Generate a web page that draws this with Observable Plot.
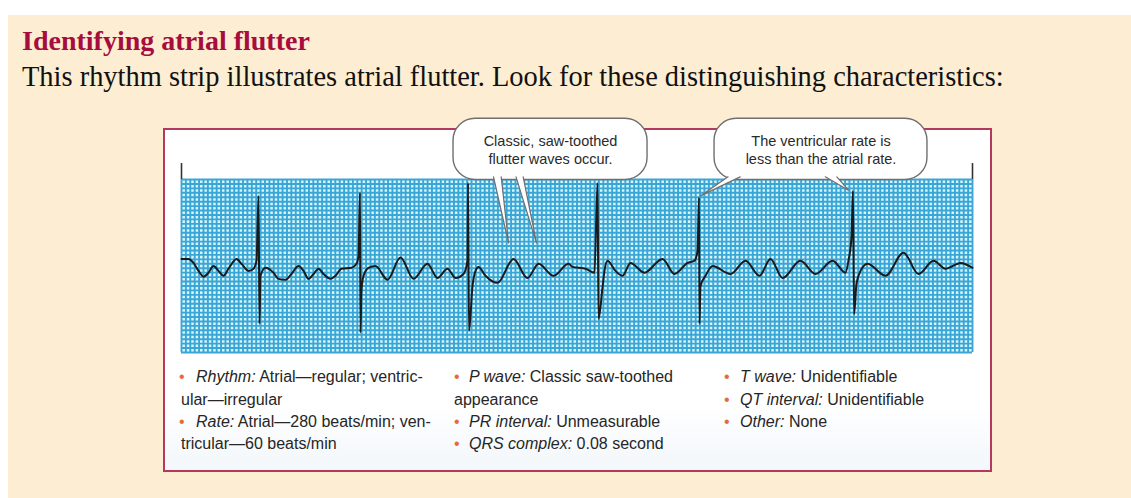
<!DOCTYPE html>
<html>
<head>
<meta charset="utf-8">
<script src="https://cdn.jsdelivr.net/npm/d3@7"></script>
<script src="https://cdn.jsdelivr.net/npm/@observablehq/plot@0.6"></script>
<style>
  html, body { margin: 0; padding: 0; background: #ffffff; }
  #page { position: relative; width: 1131px; height: 498px; overflow: hidden; }
  #bg { position: absolute; left: 8px; top: 15px; width: 1123px; height: 483px; background: #FDEDD2; }
  #title { position: absolute; left: 22px; top: 29px; font-family: "Liberation Serif", "DejaVu Serif", serif; font-weight: bold; font-size: 24px; color: #A60D3D; white-space: nowrap; line-height: 28px; }
  #sub { position: absolute; left: 22px; top: 65px; font-family: "Liberation Serif", "DejaVu Serif", serif; font-size: 23px; color: #111; white-space: nowrap; line-height: 28px; }
  #panel { position: absolute; left: 163px; top: 128px; width: 825px; height: 340px; border: 2px solid #B33A5C; background: linear-gradient(#ffffff 80%, #f3f7fb 100%); }
  #chart { position: absolute; left: 170px; top: 108px; }
  #chart svg { overflow: visible; }
  .ln { position: absolute; font-family: "Liberation Sans Narrow", "Arial Narrow", "Liberation Sans", sans-serif; font-size: 16px; line-height: 22px; color: #262626; white-space: nowrap; }
  .dot { position: absolute; font-family: "Liberation Sans", sans-serif; font-size: 16px; line-height: 22px; color: #E8693A; }
  .ln i { font-style: italic; }
</style>
</head>
<body>
<div id="page">
  <div id="bg"></div>
  <div id="title">Identifying atrial flutter</div>
  <div id="sub">This rhythm strip illustrates atrial flutter. Look for these distinguishing characteristics:</div>
  <div id="panel"></div>
  <div id="chart"></div>
  <div id="bullets"></div>
</div>
<script>
// ---------- ECG paper (seconds / millivolts) ----------
const stripSeconds = 7.2;
const smallBoxSec = 0.04;
const smallBoxMv = 0.1;
const mvBottom = -2.0;
const mvTop = 1.9;

// ---------- ECG trace read from the strip ----------
const ecgTime = [
  0, 0.064, 0.109, 0.155, 0.200, 0.246, 0.291, 0.337, 0.382, 0.428, 0.501, 0.546, 0.610, 0.655, 0.683, 0.701, 0.710, 0.719,
  0.765, 0.837, 0.883, 0.947, 1.001, 1.065, 1.111, 1.156, 1.202, 1.247, 1.293, 1.356, 1.402, 1.456, 1.547, 1.593, 1.611, 1.625, 1.629, 1.638, 1.657, 1.702, 1.766,
  1.875, 1.993, 2.112, 2.239, 2.330, 2.421, 2.494, 2.567, 2.603, 2.608, 2.617, 2.649, 2.676, 2.703, 2.767, 2.876, 3.022, 3.149, 3.250, 3.386, 3.523,
  3.559, 3.677, 3.759, 3.787, 3.796, 3.832, 3.850, 3.878, 3.950, 4.014, 4.087, 4.214, 4.378, 4.488, 4.606, 4.670, 4.697, 4.711, 4.715,
  4.724, 4.770, 4.833, 4.997, 5.134, 5.261, 5.361, 5.471, 5.634, 5.771, 5.926, 6.044, 6.071, 6.099, 6.112, 6.122,
  6.144, 6.181, 6.244, 6.408, 6.572, 6.709, 6.845, 6.954, 7.020, 7.091, 7.200
];
const ecgMv = [
  0.11, 0.11, 0.02, -0.16, -0.29, -0.20, -0.05, -0.16, -0.27, -0.11, 0.11, 0.00, -0.16, -0.11, 0.07, 1.53, -1.35, -0.27,
  -0.09, -0.20, -0.34, -0.36, -0.23, -0.05, -0.16, -0.34, -0.23, -0.11, -0.23, -0.34, -0.27, -0.11, -0.09, 0.00, 0.18, 1.60, -1.55, -0.61, -0.27, -0.09, -0.05,
  -0.36, 0.14, -0.34, 0.00, -0.32, -0.11, -0.32, -0.23, 0.07, 1.82, -1.51, -0.50, -0.16, -0.07, -0.27, -0.43, 0.11, -0.32, 0.00, -0.27, 0.00,
  -0.07, -0.11, -0.20, 1.82, -1.24, -0.54, -0.16, 0.07, -0.16, -0.27, 0.02, -0.20, 0.11, -0.23, 0.02, 0.07, 0.29, 1.49, -1.35,
  -0.50, -0.27, -0.05, -0.23, 0.07, -0.27, 0.11, -0.32, 0.07, -0.23, 0.07, -0.20, 0.07, 0.63, 1.64, -1.13,
  -0.45, -0.16, 0.00, -0.27, 0.25, -0.23, 0.07, -0.11, -0.05, 0.02, -0.09
];

// ---------- Callouts ----------
const calloutLines = [["Classic, saw-toothed", "flutter waves occur."], ["The ventricular rate is", "less than the atrial rate."]];
const calloutX1 = [2.476, 4.852];
const calloutX2 = [4.242, 6.790];
const calloutTopMv = 3.27;
const calloutBottomMv = 1.89;
// tails: callout index, base start/end (s), tip time (s), tip level (mV)
const tailCallout = [0, 0, 1, 1];
const tailBase1 = [2.840, 3.045, 4.975, 5.860];
const tailBase2 = [2.910, 3.110, 5.085, 5.965];
const tailTipT = [2.977, 3.231, 4.724, 6.071];
const tailTipMv = [0.47, 0.47, 1.53, 1.66];

// ---------- Bullet text ----------
const col1 = [["Rhythm:", " Atrial\u2014regular; ventric-", "ular\u2014irregular"], ["Rate:", " Atrial\u2014280 beats/min; ven-", "tricular\u201460 beats/min"]];
const col2 = [["P wave:", " Classic saw-toothed", "appearance"], ["PR interval:", " Unmeasurable", null], ["QRS complex:", " 0.08 second", null]];
const col3 = [["T wave:", " Unidentifiable", null], ["QT interval:", " Unidentifiable", null], ["Other:", " None", null]];

// ---------- Build tables ----------
const ecg = ecgTime.map((t, i) => ({t, mv: ecgMv[i]}));
const xGrid = d3.range(Math.round(stripSeconds / smallBoxSec) + 1).map(i => i * smallBoxSec);
const yGrid = d3.range(Math.round((mvTop - mvBottom) / smallBoxMv) + 1).map(i => mvBottom + i * smallBoxMv);
const callouts = calloutLines.map((lines, i) => ({
  x1: calloutX1[i], x2: calloutX2[i], y1: calloutBottomMv, y2: calloutTopMv,
  cx: (calloutX1[i] + calloutX2[i]) / 2, cy: (calloutBottomMv + calloutTopMv) / 2,
  label: lines.join("\n")
}));
const inset = 0.07;
const tails = [];
tailCallout.forEach((c, i) => {
  tails.push({id: i, x: tailBase1[i], y: calloutBottomMv + inset});
  tails.push({id: i, x: tailTipT[i], y: tailTipMv[i]});
  tails.push({id: i, x: tailBase2[i], y: calloutBottomMv + inset});
});

const gridW = 791, gridH = 173;
const mL = 11, mR = 12, mT = 71, mB = 4;

const chart = Plot.plot({
  width: gridW + mL + mR,
  height: gridH + mT + mB,
  marginLeft: mL, marginRight: mR, marginTop: mT, marginBottom: mB,
  x: {domain: [0, stripSeconds], axis: null},
  y: {domain: [mvBottom, mvTop], axis: null},
  style: {background: "transparent", overflow: "visible"},
  marks: [
    Plot.frame({fill: "#D6F5FD", stroke: null}),
    Plot.ruleX(xGrid, {stroke: "#3AA6D6", strokeWidth: 1.9}),
    Plot.ruleY(yGrid, {stroke: "#3AA6D6", strokeWidth: 1.9}),
    Plot.ruleX([0, stripSeconds], {y1: mvTop, y2: mvTop + 0.36, stroke: "#333", strokeWidth: 1.6}),
    Plot.line(ecg, {x: "t", y: "mv", curve: "monotone-x", stroke: "#1a1a1a", strokeWidth: 2}),
    Plot.rect(callouts, {x1: "x1", x2: "x2", y1: "y1", y2: "y2", rx: 22, fill: "#ffffff", stroke: "#6f6f6f", strokeWidth: 1.4}),
    Plot.line(tails, {x: "x", y: "y", z: "id", fill: "#ffffff", stroke: "#6f6f6f", strokeWidth: 1.2, curve: "linear"}),
    Plot.text(callouts, {x: "cx", y: "cy", text: "label", fontSize: 14.5, lineHeight: 1.22,
      fontFamily: "'Liberation Sans Narrow', 'Arial Narrow', 'Liberation Sans', sans-serif", fill: "#2a2a2a"})
  ]
});
document.getElementById("chart").append(chart);

// ---------- Bullets ----------
const bullets = document.getElementById("bullets");
const rowTops = [366, 389, 411, 433];
function addColumn(items, dotX, textX, contX) {
  let row = 0;
  items.forEach(([lab, rest, cont]) => {
    const dot = document.createElement("div");
    dot.className = "dot"; dot.textContent = "\u2022";
    dot.style.left = dotX + "px"; dot.style.top = rowTops[row] + "px";
    bullets.append(dot);
    const ln = document.createElement("div");
    ln.className = "ln";
    ln.style.left = textX + "px"; ln.style.top = rowTops[row] + "px";
    const it = document.createElement("i"); it.textContent = lab;
    ln.append(it, document.createTextNode(rest));
    bullets.append(ln);
    row++;
    if (cont) {
      const c = document.createElement("div");
      c.className = "ln"; c.textContent = cont;
      c.style.left = contX + "px"; c.style.top = rowTops[row] + "px";
      bullets.append(c);
      row++;
    }
  });
}
addColumn(col1, 179, 196, 181);
addColumn(col2, 454, 469, 454);
addColumn(col3, 724, 740, 724);

// fit heading widths to the reference's measured extents by font size, keeping the baseline
function fitWidth(el, target, baseline) {
  const base = parseFloat(getComputedStyle(el).fontSize);
  const w = el.getBoundingClientRect().width;
  const size = base * target / w;
  el.style.fontSize = size + "px";
  el.style.lineHeight = "1";
  el.style.top = (baseline - size * 0.84) + "px";
}
fitWidth(document.getElementById("title"), 288, 51);
fitWidth(document.getElementById("sub"), 982, 87);
</script>
</body>
</html>
